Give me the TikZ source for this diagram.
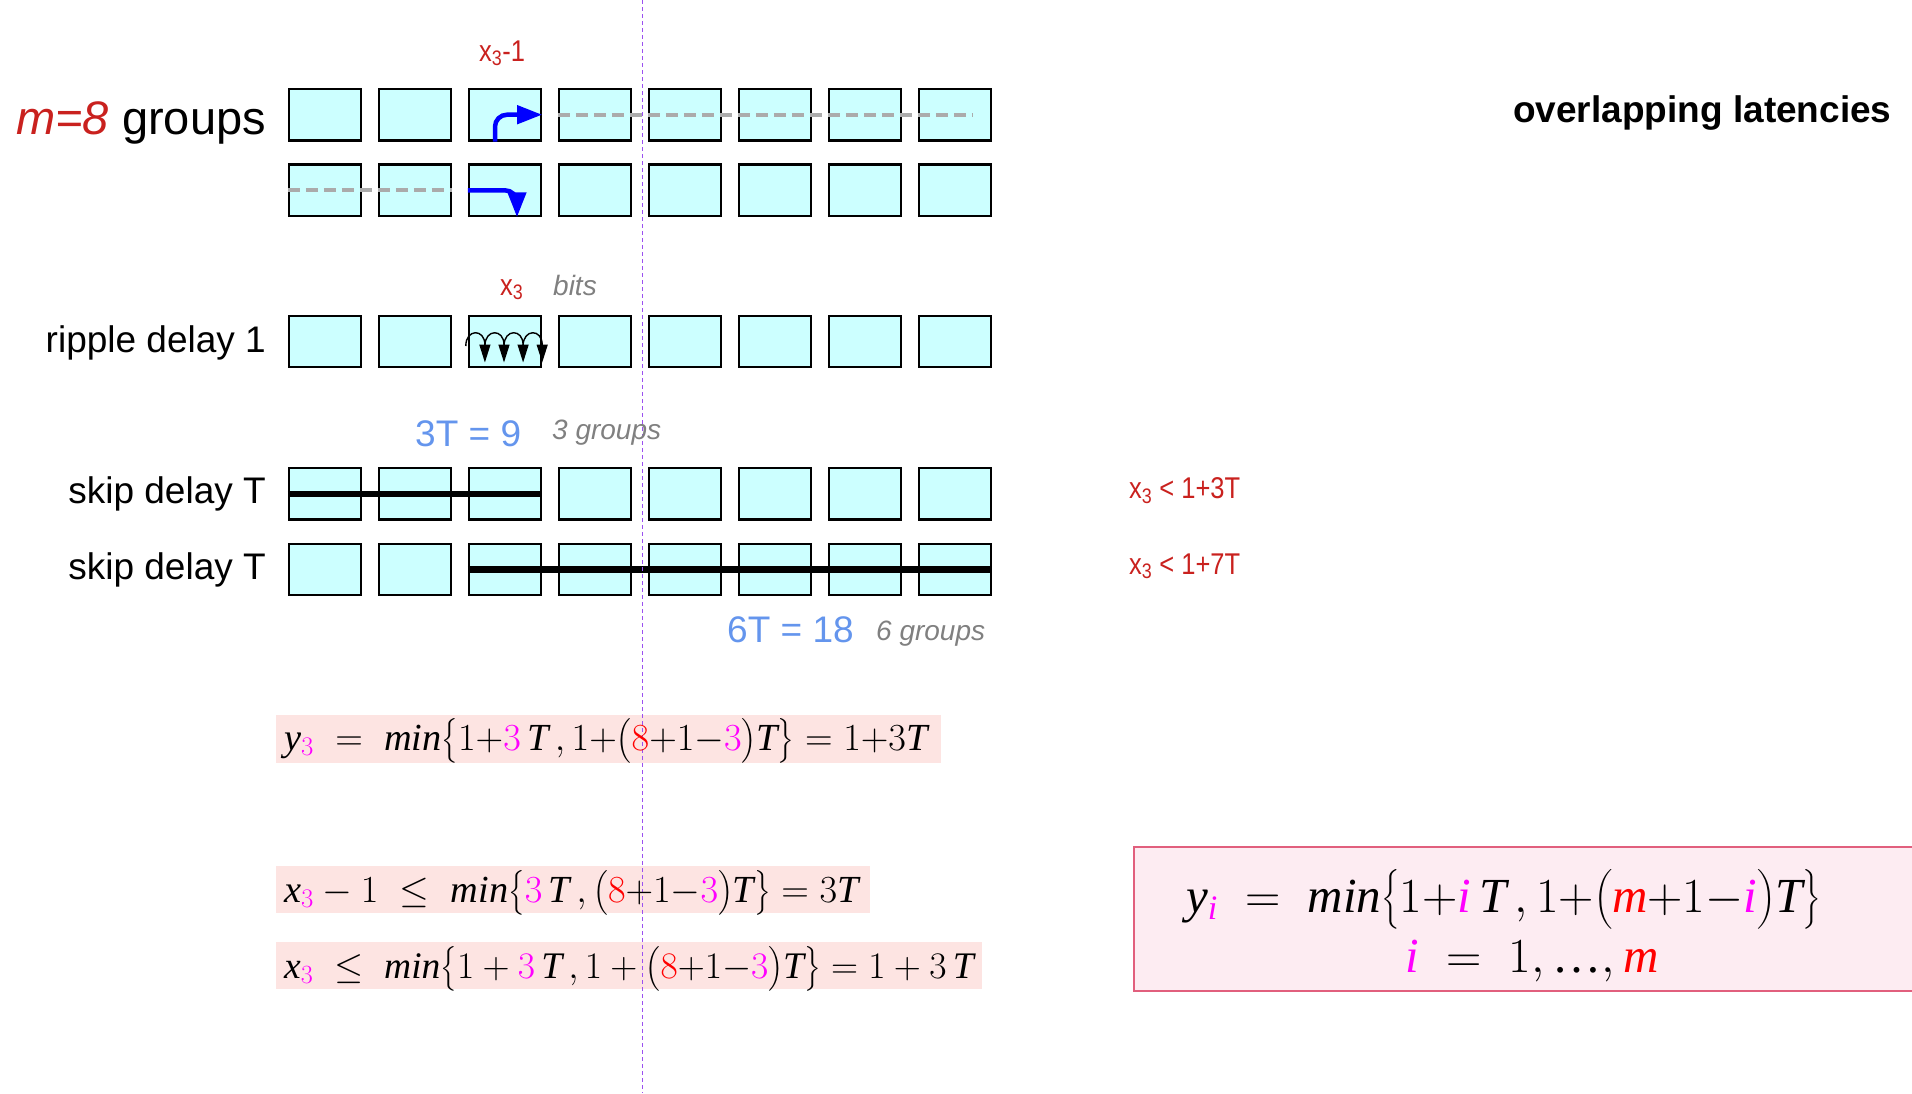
\RequirePackage{fix-cm}
\documentclass[tikz,border=0pt]{standalone}
\usepackage{amsmath}
\usepackage{fontspec}
\setmainfont{Liberation Serif}
\newfontfamily\lab{Liberation Sans}
\usetikzlibrary{arrows.meta,calc,positioning}

\definecolor{cellfill}{RGB}{204,255,255}
\definecolor{lblred}{RGB}{201,33,30}
\definecolor{lblblue}{RGB}{100,149,237}
\definecolor{lblgray}{RGB}{128,128,128}
\definecolor{eqbg}{RGB}{253,228,226}
\definecolor{boxbg}{RGB}{253,236,242}
\definecolor{boxline}{RGB}{225,95,125}
\definecolor{guide}{RGB}{155,80,240}
\definecolor{mgcol}{RGB}{255,0,255}
\definecolor{rdcol}{RGB}{255,0,0}
\definecolor{arrowblue}{RGB}{0,0,255}
\newcommand\mgt[1]{\textcolor{mgcol}{#1}}
\newcommand\rdt[1]{\textcolor{rdcol}{#1}}
\newcommand\itv[1]{\mathit{#1}}

\begin{document}
\begin{tikzpicture}[x=1pt,y=-1pt,
cell/.style={draw,fill=cellfill,line width=2.4pt,minimum width=72pt,minimum height=51.5pt,inner sep=0pt},
lbl/.style={inner sep=0pt,font=\lab\fontsize{37}{40}\selectfont},
note/.style={inner sep=0pt,text=lblgray,font=\lab\itshape\fontsize{28}{30}\selectfont},
cond/.style={inner sep=0pt,text=lblred,font=\lab\fontsize{30}{32}\selectfont},
eq/.style={inner sep=0pt,font=\fontsize{38.3}{42}\selectfont},
bigeq/.style={inner sep=0pt,font=\fontsize{49}{52}\selectfont},
carry/.style={draw=black!33,line width=4pt,dash pattern=on 12pt off 6pt},
jump/.style={draw=arrowblue,line width=4.5pt,rounded corners=12pt,-{Triangle[length=25pt,width=18pt]}},
bit/.style={line width=1.4pt,-{Triangle[length=18pt,width=11pt]}},
skip/.style={line width=6.5pt}]
\useasboundingbox (0,0) rectangle (1912,1093);
% formula backgrounds
\fill[eqbg] (275.6,715) rectangle (941,762.5);
\fill[eqbg] (275.6,866) rectangle (870,913);
\fill[eqbg] (275.6,942) rectangle (982,989);
\draw[boxline,fill=boxbg,line width=1.5pt] (1134,847) rectangle (1930,991);
% the eight groups, five rows
\foreach \i in {1,...,8} {
  \node[cell] (A\i) at ({325+90*(\i-1)},114.7) {};
  \node[cell] (B\i) at ({325+90*(\i-1)},190.3) {};
  \node[cell] (R\i) at ({325+90*(\i-1)},341.5) {};
  \node[cell] (S\i) at ({325+90*(\i-1)},493.9) {};
  \node[cell] (T\i) at ({325+90*(\i-1)},569.5) {};
}
\draw[carry] (A4.west) -- ([xshift=-20pt]A8.east);
\draw[carry] (B1.west) -- (B2.east);
\draw[jump] ([xshift=-10pt]A3.south) |- (A3.east);
\draw[jump] (B3.west) -| ([xshift=12pt]B3.south);
\foreach \k in {0,...,3}
  \draw[bit] ($(R3.west)+(-2+19.1*\k,4.5)$) .. controls ($(R3.west)+(-2+19.1*\k,-13)$) and ($(R3.west)+(17.1+19.1*\k,-13)$) .. ($(R3.west)+(17.1+19.1*\k,21)$);
\draw[skip] (S1.west) -- (S3.east);
\draw[skip] (T3.west) -- (T8.east);
\draw[guide,line width=1.3pt,dash pattern=on 4pt off 3pt] (642.6,0) -- (642.6,1093);
% labels
\node[lbl,anchor=base east,font=\lab\fontsize{47}{50}\selectfont] (groups) at (266,134) {{\itshape\color{lblred}m=8} groups};
\node[lbl,anchor=base east] (ripple) at (266,352.4) {ripple delay 1};
\node[lbl,anchor=base east] (skipa) at (266,503.6) {skip delay T};
\node[lbl,anchor=base east] (skipb) at (266,579.2) {skip delay T};
\node[lbl,anchor=base west,font=\lab\bfseries\fontsize{37}{40}\selectfont] (title) at (1513,122) {overlapping latencies};
\node[cond,anchor=base west] (xm) at (479,61) {\scalebox{0.85}[1]{x\textsubscript{3}-1}};
\node[cond,anchor=base west] (xr) at (500,295) {\scalebox{0.85}[1]{x\textsubscript{3}}};
\node[note,anchor=base west] (bits) at (553,295) {bits};
\node[lbl,anchor=base west,text=lblblue] (ta) at (415,446) {3T = 9};
\node[note,anchor=base west] (ga) at (552,439) {3 groups};
\node[lbl,anchor=base west,text=lblblue] (tb) at (727,642.6) {6T = 18};
\node[note,anchor=base west] (gb) at (876,640) {6 groups};
\node[cond,anchor=base west] (ca) at (1129,498.7) {\scalebox{0.85}[1]{x\textsubscript{3} < 1+3T}};
\node[cond,anchor=base west] (cb) at (1129,574) {\scalebox{0.85}[1]{x\textsubscript{3} < 1+7T}};
% formulas
\node[eq,anchor=base west] (eqa) at (284,750) {$\itv{y}_{\mgt{3}}\;=\;\itv{min}\bigl\{1{+}\mgt{3}\,\itv{T}\,,1{+}\bigl(\rdt{8}{+}1{-}\mgt{3}\bigr)\itv{T}\bigr\}=1{+}3\itv{T}$};
\node[eq,anchor=base west] (eqb) at (284,902) {$\itv{x}_{\mgt{3}}-1\;\leq\;\itv{min}\bigl\{\mgt{3}\,\itv{T}\,,\bigl(\rdt{8}{+}1{-}\mgt{3}\bigr)\itv{T}\bigr\}=3\itv{T}$};
\node[eq,anchor=base west,font=\fontsize{37.5}{42}\selectfont] (eqc) at (284,978) {$\itv{x}_{\mgt{3}}\;\leq\;\itv{min}\bigl\{1+\mgt{3}\,\itv{T}\,,1+\bigl(\rdt{8}{+}1{-}\mgt{3}\bigr)\itv{T}\bigr\}=1+3\,\itv{T}$};
\node[bigeq,anchor=base west] (eqd) at (1186,912) {$\itv{y}_{\mgt{\itv{i}}}\;=\;\itv{min}\bigl\{1{+}\mgt{\itv{i}}\,\itv{T}\,,1{+}\bigl(\rdt{\itv{m}}{+}1{-}\mgt{\itv{i}}\bigr)\itv{T}\bigr\}$};
\node[bigeq,anchor=base west] (eqe) at (1405,972) {$\mgt{\itv{i}}\;=\;1,\text{…},\rdt{\itv{m}}$};
\end{tikzpicture}
\end{document}
